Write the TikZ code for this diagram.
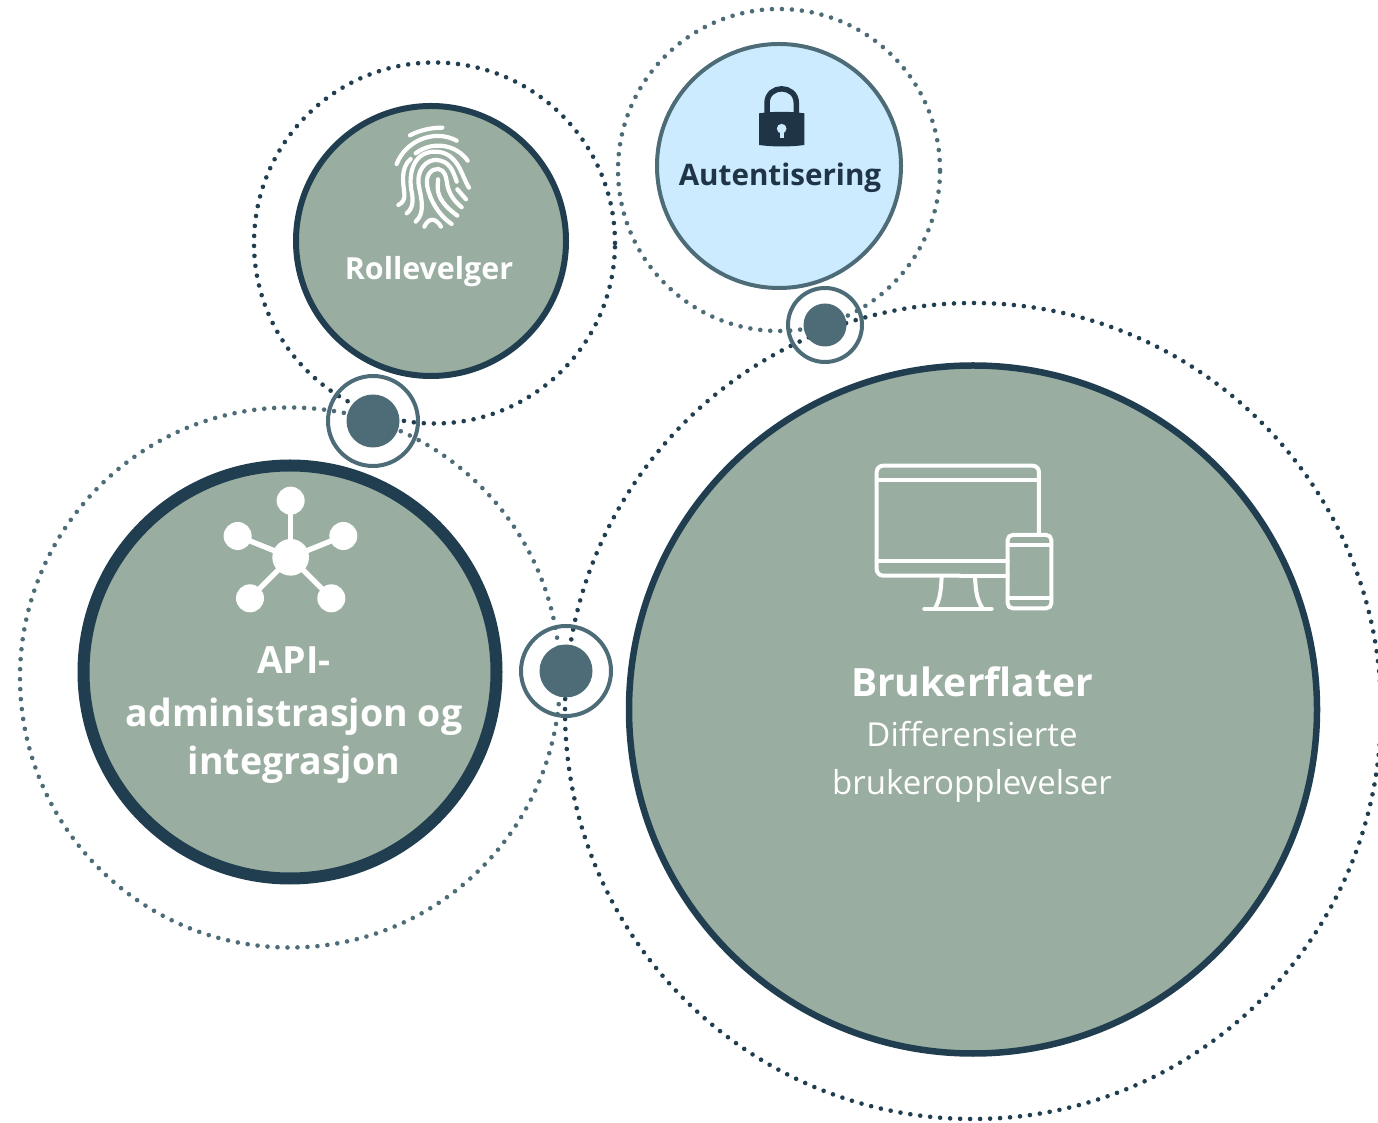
\documentclass[tikz,border=0pt]{standalone}
\usepackage{fontspec}
\setmainfont{Open Sans}
\definecolor{sage}{HTML}{99AEA0}
\definecolor{navy}{HTML}{203E4F}
\definecolor{slate}{HTML}{4D6C77}
\definecolor{sky}{HTML}{CCEBFF}
\definecolor{ink}{HTML}{1F3444}
\tikzset{
 x=1pt,y=1pt,
 dotring/.style={circle,draw,inner sep=0pt,outer sep=0pt,line cap=round,dash pattern=on 0pt off 10pt,line width=4.6pt,minimum size=#1},
 disc/.style={circle,draw=navy,fill=sage,inner sep=0pt,outer sep=0pt,minimum size=#1},
 hubring/.style={circle,draw=slate,line width=4pt,inner sep=0pt,outer sep=0pt,minimum size=#1},
 hubdot/.style={circle,fill=slate,inner sep=0pt,outer sep=0pt,minimum size=#1},
 lbl/.style={anchor=base,inner sep=0pt,text=white},
 icon/.style={draw=white,line cap=round,line join=round},
}
\begin{document}
\begin{tikzpicture}
\useasboundingbox (0,0) rectangle (1378,1122);
\clip (0,0) rectangle (1378,1122);
% dotted orbits
\node[dotring=361pt,draw=navy] (orbitRolle) at (434.5,879) {};
\node[dotring=322pt,draw=slate] (orbitAuth) at (779,952) {};
\node[dotring=540pt,draw=slate] (orbitApi) at (290,444.5) {};
\node[dotring=816pt,draw=navy] (orbitFlate) at (973,411) {};
% main discs
\node[disc=270pt,line width=6pt] (rolle) at (431,881) {};
\node[disc=244pt,line width=4pt,draw=slate,fill=sky] (auth) at (779,956) {};
\node[disc=413pt,line width=12pt] (api) at (290,450) {};
\node[disc=688pt,line width=6.5pt] (flate) at (973,412.5) {};
% hubs
\node[hubring=90pt] (ringA) at (373,701) {};
\node[hubdot=53pt] (dotA) at (373,701) {};
\node[hubring=90pt] (ringB) at (566,451) {};
\node[hubdot=53pt] (dotB) at (566,451) {};
\node[hubring=74pt] (ringC) at (825,797) {};
\node[hubdot=43pt] (dotC) at (825,797) {};
% labels
\node[lbl,font=\bfseries\fontsize{30.4}{30}\selectfont] (tRolle) at (429,842) {Rollevelger};
\node[lbl,text=ink,font=\bfseries\fontsize{29.6}{30}\selectfont] (tAuth) at (780,936) {Autentisering};
\node[lbl,font=\bfseries\fontsize{37.5}{37}\selectfont] (tApiA) at (294,448) {API-};
\node[lbl,font=\bfseries\fontsize{37.5}{37}\selectfont] (tApiB) at (294,395) {administrasjon og};
\node[lbl,font=\bfseries\fontsize{37.5}{37}\selectfont] (tApiC) at (294,347) {integrasjon};
\node[lbl,font=\bfseries\fontsize{39}{39}\selectfont] (tFlA) at (972,425) {Brukerflater};
\node[lbl,font=\fontsize{33}{33}\selectfont] (tFlB) at (972,375) {Differensierte};
\node[lbl,font=\fontsize{33}{33}\selectfont] (tFlC) at (972,327) {brukeropplevelser};
% fingerprint
\begin{scope}[shift={(370,1022)},x=0.3333pt,y=-0.3333pt,icon,line width=4.2pt]
\draw (120,106) .. controls (150,90) and (185,83) .. (217,83);
\draw (80,192) .. controls (105,125) and (190,85) .. (260,122);
\draw (137,160) .. controls (190,120) and (260,135) .. (293,182);
\draw (122,177) .. controls (90,205) and (100,250) .. (103,280) .. controls (105,295) and (100,308) .. (85,315);
\draw (110,340) .. controls (130,325) and (130,300) .. (125,275) .. controls (115,230) and (125,155) .. (195,155) .. controls (265,155) and (275,230) .. (297,263);
\draw (137,365) .. controls (165,340) and (155,300) .. (148,265) .. controls (135,210) and (170,178) .. (200,180) .. controls (240,183) and (250,215) .. (260,245);
\draw (245,372) .. controls (205,345) and (180,300) .. (172,260) .. controls (165,225) and (185,205) .. (205,207) .. controls (225,210) and (228,230) .. (232,255) .. controls (238,285) and (255,305) .. (275,322);
\draw (262,347) .. controls (225,320) and (205,295) .. (203,265) -- (204,238);
\draw (262,268) -- (288,298);
\draw (163,380) .. controls (175,355) and (195,350) .. (213,380);
\end{scope}
% padlock
\begin{scope}[shift={(740,1052)},x=0.3333pt,y=-0.3333pt]
\draw[ink,line width=5.5pt] (81,135) -- (81,100) .. controls (81,42) and (169,42) .. (169,100) -- (169,135);
\fill[ink] (57,130) .. controls (100,124) and (150,124) .. (193,130) -- (193,225) .. controls (150,231) and (100,231) .. (57,225) -- cycle;
\fill[sky] (125,176) circle[radius=14.5];
\fill[sky] (119,180) rectangle (131,205);
\end{scope}
% devices
\begin{scope}[shift={(860,672)},x=0.3333pt,y=-0.3333pt,icon,line width=4pt]
\draw[rounded corners=6.5pt] (537,250) -- (537,47) -- (50,47) -- (50,377) -- (300,377);
\draw (300,377) -- (443,377);
\draw (50,90) -- (537,90);
\draw (50,333) -- (443,333);
\draw (245,380) .. controls (243,420) and (240,450) .. (225,475);
\draw (345,380) .. controls (347,420) and (350,450) .. (368,475);
\draw (193,476) -- (395,476);
\draw[rounded corners=5pt] (443,255) rectangle (574,475);
\draw (443,285) -- (574,285);
\draw (443,443) -- (574,443);
\end{scope}
% network
\begin{scope}[shift={(210,642)},x=0.3333pt,y=-0.3333pt]
\fill[white] (242,232) circle[radius=55];
\foreach \px/\py in {242/62,83/168,400/168,120/355,364/355}{
 \fill[white] (\px,\py) circle[radius=42];
 \draw[white,line width=5.3pt] (242,232) -- (\px,\py);
}
\end{scope}
\end{tikzpicture}
\end{document}
